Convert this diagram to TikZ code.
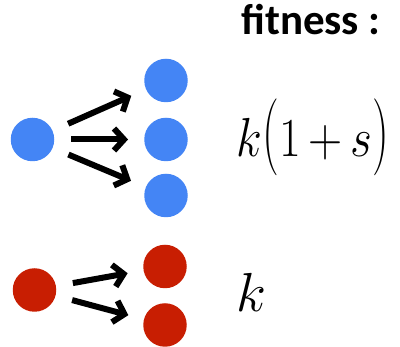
\RequirePackage{fix-cm}
\documentclass[tikz,border=0pt]{standalone}
\usepackage{fontspec}
\usepackage{graphicx}
\newfontfamily\carl{Carlito}
\usetikzlibrary{arrows.meta}
\definecolor{cblue}{RGB}{68,133,245}
\definecolor{cred}{RGB}{200,30,2}
\newcommand{\tallparen}[1]{\scalebox{1}[1.4]{$#1$}}
\tikzset{
  dot/.style={circle,inner sep=0pt,minimum size=43.5pt},
  bdot/.style={dot,fill=cblue},
  rdot/.style={dot,fill=cred},
  arr/.style={line width=6pt,-{Straight Barb[length=10pt,width=22pt,line width=6pt]},shorten <=17pt,shorten >=16pt},
  formula/.style={anchor=base,inner sep=0pt,font=\fontsize{55}{55}\selectfont},
}
\begin{document}
\begin{tikzpicture}[x=1pt,y=1pt]
\useasboundingbox (0,0) rectangle (400,347);
% blue
\node[bdot] (b0) at (32.5,207.5) {};
\node[bdot] (b1) at (166,266.5) {};
\node[bdot] (b2) at (166,207.5) {};
\node[bdot] (b3) at (166,151.5) {};
\draw[arr] (b0) -- (b1);
\draw[arr] (b0) -- (b2);
\draw[arr] (b0) -- (b3);
% red
\node[rdot] (r0) at (34.5,57) {};
\node[rdot] (r1) at (165,80.5) {};
\node[rdot] (r2) at (165,22) {};
\draw[arr] (r0) -- (r1);
\draw[arr] (r0) -- (r2);
% texts
\node[anchor=base,inner sep=0pt,font=\carl\bfseries\fontsize{43}{43}\selectfont] (fit) at (311,312) {fitness :};
\node[formula] (f1) at (313,190) {\scalebox{0.86}[1]{$k\tallparen{(}1\mskip3mu{+}\mskip3mu s\tallparen{)}$}};
\node[formula] (f2) at (251,35) {$k$};
\end{tikzpicture}
\end{document}
